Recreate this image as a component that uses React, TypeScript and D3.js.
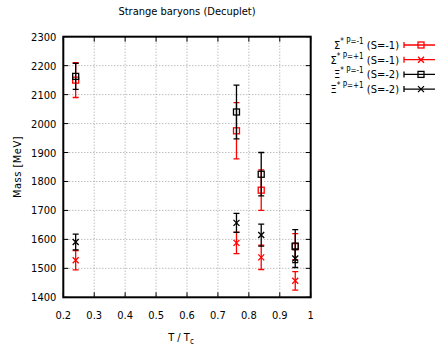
import * as d3 from "d3";

// T / Tc positions of the measurements
const temps = [0.24, 0.76, 0.84, 0.95];

// masses and errors [MeV]
const sigmaNegMass = [2150, 1975, 1770, 1575];
const sigmaNegErr = [60, 97, 70, 45];
const sigmaPosMass = [1528, 1588, 1538, 1457];
const sigmaPosErr = [33, 37, 42, 32];
const xiNegMass = [2163, 2040, 1825, 1577];
const xiNegErr = [45, 93, 75, 57];
const xiPosMass = [1591, 1657, 1615, 1534];
const xiPosErr = [27, 33, 38, 31];

const xTicks = [0.2, 0.3, 0.4, 0.5, 0.6, 0.7, 0.8, 0.9, 1];
const yTicks = [1400, 1500, 1600, 1700, 1800, 1900, 2000, 2100, 2200, 2300];

const series = [
  { base: "Σ", parity: "-1", strange: "-1", color: "#ff0000", marker: "square", mass: sigmaNegMass, err: sigmaNegErr },
  { base: "Σ", parity: "+1", strange: "-1", color: "#ff0000", marker: "cross", mass: sigmaPosMass, err: sigmaPosErr },
  { base: "Ξ", parity: "-1", strange: "-2", color: "#000000", marker: "square", mass: xiNegMass, err: xiNegErr },
  { base: "Ξ", parity: "+1", strange: "-2", color: "#000000", marker: "cross", mass: xiPosMass, err: xiPosErr },
];

const W = 435;
const H = 347;
const m = { left: 63.3, right: 310.7, top: 36.7, bottom: 297.3 };
const font = "'DejaVu Sans Condensed', 'DejaVu Sans', sans-serif";

function Marker({ kind, x, y, color }: { kind: string; x: number; y: number; color: string }) {
  const s = 3;
  if (kind === "square") {
    return <rect x={x - s} y={y - s} width={2 * s} height={2 * s} fill="none" stroke={color} strokeWidth={1.3} />;
  }
  return (
    <path
      d={`M${x - s},${y - s}L${x + s},${y + s}M${x - s},${y + s}L${x + s},${y - s}`}
      stroke={color}
      strokeWidth={1.3}
      fill="none"
    />
  );
}

export default function App() {
  const x = d3.scaleLinear().domain([0.2, 1]).range([m.left, m.right]);
  const y = d3.scaleLinear().domain([1400, 2300]).range([m.bottom, m.top]);
  const cap = 3;
  const tick = 5;

  return (
    <svg width={W} height={H} style={{ position: "absolute", left: 0, top: 0, background: "#fff" }} fontFamily={font}>
      {/* grid */}
      {xTicks.slice(1, -1).map((t) => (
        <line key={"gx" + t} x1={x(t)} x2={x(t)} y1={m.top} y2={m.bottom} stroke="#a0a0a0" strokeWidth={1} strokeDasharray="1,2" />
      ))}
      {yTicks.slice(1, -1).map((t) => (
        <line key={"gy" + t} x1={m.left} x2={m.right} y1={y(t)} y2={y(t)} stroke="#a0a0a0" strokeWidth={1} strokeDasharray="1,2" />
      ))}

      {/* ticks, mirrored */}
      {xTicks.map((t) => (
        <g key={"tx" + t} stroke="#000" strokeWidth={1}>
          <line x1={x(t)} x2={x(t)} y1={m.bottom} y2={m.bottom - tick} />
          <line x1={x(t)} x2={x(t)} y1={m.top} y2={m.top + tick} />
        </g>
      ))}
      {yTicks.map((t) => (
        <g key={"ty" + t} stroke="#000" strokeWidth={1}>
          <line x1={m.left} x2={m.left + tick} y1={y(t)} y2={y(t)} />
          <line x1={m.right} x2={m.right - tick} y1={y(t)} y2={y(t)} />
        </g>
      ))}

      {/* tick labels */}
      {xTicks.map((t) => (
        <text key={"lx" + t} x={x(t)} y={m.bottom + 22} fontSize={11} textAnchor="middle" fill="#000">
          {String(t)}
        </text>
      ))}
      {yTicks.map((t) => (
        <text key={"ly" + t} x={m.left - 7} y={y(t) + 4} fontSize={11} textAnchor="end" fill="#000">
          {t}
        </text>
      ))}

      {/* data */}
      {series.map((s, si) => (
        <g key={"s" + si}>
          {temps.map((t, i) => {
            const px = x(t);
            const lo = y(s.mass[i] - s.err[i]);
            const hi = y(s.mass[i] + s.err[i]);
            return (
              <g key={i}>
                <path
                  d={`M${px},${lo}L${px},${hi}M${px - cap},${lo}L${px + cap},${lo}M${px - cap},${hi}L${px + cap},${hi}`}
                  stroke={s.color}
                  strokeWidth={1.3}
                  fill="none"
                />
                <Marker kind={s.marker} x={px} y={y(s.mass[i])} color={s.color} />
              </g>
            );
          })}
        </g>
      ))}

      {/* frame */}
      <rect x={m.left} y={m.top} width={m.right - m.left} height={m.bottom - m.top} fill="none" stroke="#000" strokeWidth={2} />

      {/* title and axis labels */}
      <text x={(m.left + m.right) / 2} y={15} fontSize={11} textAnchor="middle" fill="#000">
        Strange baryons (Decuplet)
      </text>
      <text x={181} y={341} fontSize={11} textAnchor="middle" fill="#000">
        T / T<tspan dy={3} fontSize={8}>c</tspan>
      </text>
      <text transform={`translate(21,${(m.top + m.bottom) / 2}) rotate(-90)`} fontSize={11} textAnchor="middle" fill="#000" letterSpacing={0.5}>
        Mass [MeV]
      </text>

      {/* legend */}
      {series.map((s, i) => {
        const ly = 45 + i * 14.7;
        const x0 = 404;
        const x1 = 438;
        return (
          <g key={"lg" + i}>
            <text x={399} y={ly + 4} fontSize={11} textAnchor="end" fill="#000">
              {s.base}
              <tspan dy={-5} fontSize={8}>{`* P=${s.parity}`}</tspan>
              <tspan dy={5}>{` (S=${s.strange})`}</tspan>
            </text>
            <path
              d={`M${x0},${ly}L${x1},${ly}M${x0},${ly - cap}L${x0},${ly + cap}M${x1},${ly - cap}L${x1},${ly + cap}`}
              stroke={s.color}
              strokeWidth={1.3}
              fill="none"
            />
            <Marker kind={s.marker} x={(x0 + x1) / 2} y={ly} color={s.color} />
          </g>
        );
      })}
    </svg>
  );
}
